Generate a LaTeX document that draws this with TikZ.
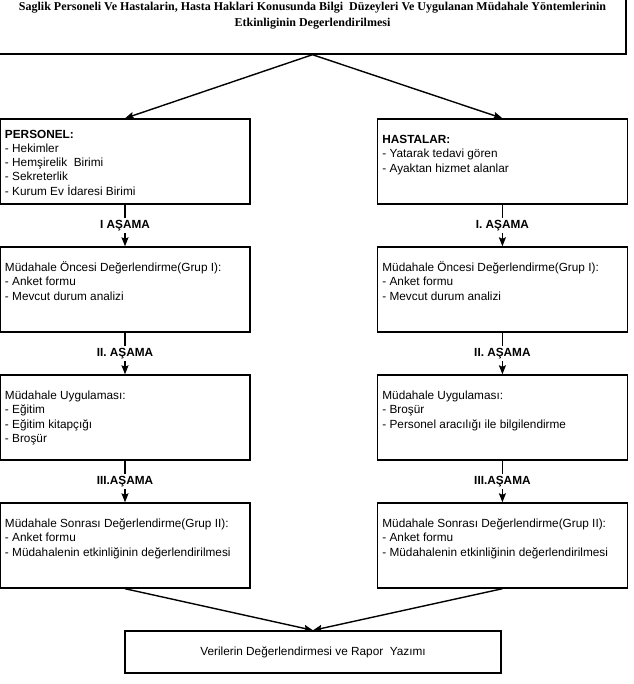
\documentclass[tikz,border=0pt]{standalone}
\usepackage{fontspec}
\setmainfont{Liberation Sans}
\newfontfamily\baslikfont{Liberation Serif}
\usetikzlibrary{arrows, arrows.meta, positioning}
\tikzstyle{baslik} = [rectangle, draw=black, line width=1.4pt, inner sep=0pt, minimum width=627pt, minimum height=55pt]
\tikzstyle{kutu} = [rectangle, draw=black, line width=1.4pt, inner xsep=5pt, inner ysep=0pt, minimum width=250pt, minimum height=85pt]
\tikzstyle{sonkutu} = [rectangle, draw=black, line width=1.4pt, minimum width=376pt, minimum height=42pt]
\tikzstyle{asama} = [fill=white, font=\bfseries, inner sep=2pt]
\tikzstyle{arrow} = [line width=1.4pt,->,>={Stealth[length=9pt,width=7pt,inset=1.5pt]}]
\newcommand{\icerik}[2]{\parbox[c][85pt][t]{240pt}{\raggedright\vspace*{#1}\strut #2}}

\begin{document}
\fontsize{11.8}{14.3}\selectfont
\begin{tikzpicture}[node distance=128pt]
\useasboundingbox (0pt,0pt) rectangle (633pt,-684pt);
        \node (baslik) [baslik] at (312.5pt,-26.5pt) {\parbox[c][55pt][t]{620pt}{\centering\baslikfont\bfseries\fontsize{12}{16}\selectfont\strut Saglik Personeli Ve Hastalarin, Hasta Haklari Konusunda Bilgi~ Düzeyleri Ve Uygulanan Müdahale Yöntemlerinin\\ Etkinliginin Degerlendirilmesi}};
        % sol sutun: personel
        \node (pers) [kutu] at (125pt,-161.5pt) {\icerik{9pt}{\textbf{PERSONEL:}\\- Hekimler\\- Hemşirelik~ Birimi\\- Sekreterlik\\- Kurum Ev İdaresi Birimi}};
   	\node (pers2) [kutu, below of = pers] {\icerik{14.5pt}{Müdahale Öncesi Değerlendirme(Grup I):\\- Anket formu\\- Mevcut durum analizi}};
	\node (pers3) [kutu, below of = pers2] {\icerik{14.5pt}{Müdahale Uygulaması:\\- Eğitim\\- Eğitim kitapçığı\\- Broşür}};
        \node (pers4) [kutu, below of = pers3] {\icerik{14.5pt}{Müdahale Sonrası Değerlendirme(Grup II):\\- Anket formu\\- Müdahalenin etkinliğinin değerlendirilmesi}};
        % sag sutun: hastalar
        \node (hasta) [kutu, right=126pt of pers] {\icerik{14.5pt}{\textbf{HASTALAR:}\\- Yatarak tedavi gören\\- Ayaktan hizmet alanlar}};
   	\node (hasta2) [kutu, below of = hasta] {\icerik{14.5pt}{Müdahale Öncesi Değerlendirme(Grup I):\\- Anket formu\\- Mevcut durum analizi}};
	\node (hasta3) [kutu, below of = hasta2] {\icerik{14.5pt}{Müdahale Uygulaması:\\- Broşür\\- Personel aracılığı ile bilgilendirme}};
        \node (hasta4) [kutu, below of = hasta3] {\icerik{14.5pt}{Müdahale Sonrası Değerlendirme(Grup II):\\- Anket formu\\- Müdahalenin etkinliğinin değerlendirilmesi}};
        \node (rapor) [sonkutu] at (313pt,-652pt) {Verilerin Değerlendirmesi ve Rapor~ Yazımı};
	\draw [arrow] (baslik.south) -- (pers.north);
	\draw [arrow] (baslik.south) -- (hasta.north);
	\draw [arrow] (pers) -- node[asama] {I AŞAMA} (pers2);
	\draw [arrow] (pers2) -- node[asama] {II. AŞAMA} (pers3);
	\draw [arrow] (pers3) -- node[asama] {III.AŞAMA} (pers4);
	\draw [arrow] (hasta) -- node[asama] {I. AŞAMA} (hasta2);
	\draw [arrow] (hasta2) -- node[asama] {II. AŞAMA} (hasta3);
	\draw [arrow] (hasta3) -- node[asama] {III.AŞAMA} (hasta4);
	\draw [arrow] (pers4.south) -- (rapor.north);
	\draw [arrow] (hasta4.south) -- (rapor.north);
\end{tikzpicture}
\end{document}
